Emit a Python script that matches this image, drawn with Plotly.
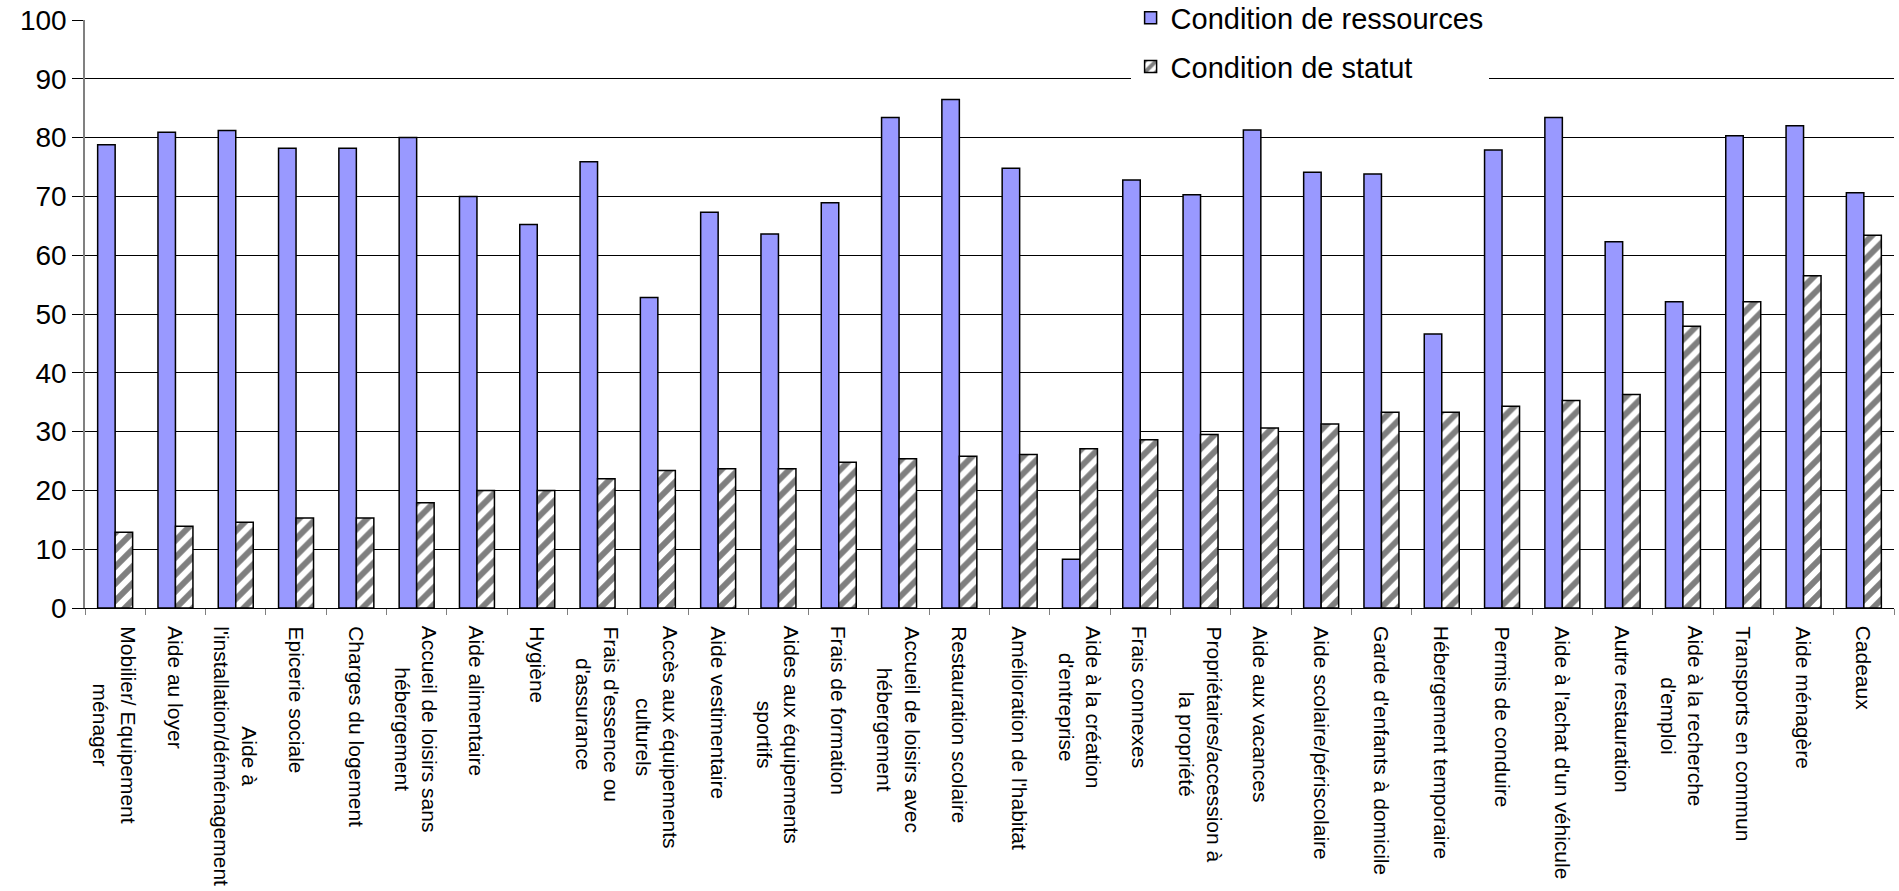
import plotly.graph_objects as go

# Aid categories (keys) and their wrapped axis labels
categories = [
    "Mobilier/ Equipement ménager", "Aide au loyer", "Aide à l'installation/déménagement",
    "Epicerie sociale", "Charges du logement", "Accueil de loisirs sans hébergement",
    "Aide alimentaire", "Hygiène", "Frais d'essence ou d'assurance",
    "Accès aux équipements culturels", "Aide vestimentaire", "Aides aux équipements sportifs",
    "Frais de formation", "Accueil de loisirs avec hébergement", "Restauration scolaire",
    "Amélioration de l'habitat", "Aide à la création d'entreprise", "Frais connexes",
    "Propriétaires/accession à la propriété", "Aide aux vacances", "Aide scolaire/périscolaire",
    "Garde d'enfants à domicile", "Hébergement temporaire", "Permis de conduire",
    "Aide à l'achat d'un véhicule", "Autre restauration", "Aide à la recherche d'emploi",
    "Transports en commun", "Aide ménagère", "Cadeaux",
]
tick_labels = [
    "Mobilier/ Equipement<br>ménager", "Aide au loyer", "Aide à<br>l'installation/déménagement",
    "Epicerie sociale", "Charges du logement", "Accueil de loisirs sans<br>hébergement",
    "Aide alimentaire", "Hygiène", "Frais d'essence ou<br>d'assurance",
    "Accès aux équipements<br>culturels", "Aide vestimentaire", "Aides aux équipements<br>sportifs",
    "Frais de formation", "Accueil de loisirs avec<br>hébergement", "Restauration scolaire",
    "Amélioration de l'habitat", "Aide à la création<br>d'entreprise", "Frais connexes",
    "Propriétaires/accession à<br>la propriété", "Aide aux vacances", "Aide scolaire/périscolaire",
    "Garde d'enfants à domicile", "Hébergement temporaire", "Permis de conduire",
    "Aide à l'achat d'un véhicule", "Autre restauration", "Aide à la recherche<br>d'emploi",
    "Transports en commun", "Aide ménagère", "Cadeaux",
]

# Share of aids (%) subject to each condition
ressources = [78.8, 80.9, 81.2, 78.2, 78.2, 80.0, 70.0, 65.2, 75.9, 52.8,
              67.3, 63.6, 68.9, 83.4, 86.5, 74.8, 8.3, 72.8, 70.3, 81.3,
              74.1, 73.8, 46.6, 77.9, 83.4, 62.3, 52.1, 80.3, 82.0, 70.6]
statut = [12.9, 13.9, 14.6, 15.3, 15.3, 17.9, 20.0, 20.0, 22.0, 23.4,
          23.7, 23.7, 24.8, 25.4, 25.8, 26.1, 27.1, 28.6, 29.5, 30.6,
          31.3, 33.3, 33.3, 34.3, 35.3, 36.3, 47.9, 52.1, 56.5, 63.4]

y_ticks = [0, 10, 20, 30, 40, 50, 60, 70, 80, 90, 100]

FONT = "Arial, Liberation Sans, sans-serif"

fig = go.Figure()
fig.add_trace(go.Bar(
    x=categories, y=ressources, name="Condition de ressources",
    legendgroup="r",
    marker=dict(color="#9999FF", line=dict(color="black", width=1.5)),
))
fig.add_trace(go.Bar(
    x=categories, y=statut, name="Condition de statut",
    legendgroup="s",
    marker=dict(
        color="white",
        line=dict(color="black", width=1.5),
        pattern=dict(shape="/", fgcolor="black", bgcolor="white", size=12, solidity=0.5),
    ),
))

# Rotated, centred multi-line category labels under the axis
for cat, lab in zip(categories, tick_labels):
    fig.add_annotation(
        x=cat, y=0, xref="x", yref="y", text=lab, showarrow=False,
        textangle=90, xanchor="center", yanchor="top", yshift=-16,
        align="center", font=dict(family=FONT, size=21, color="black"),
    )

fig.update_layout(
    width=1899, height=891,
    margin=dict(l=85, r=5, t=20, b=283, autoexpand=False),
    paper_bgcolor="white", plot_bgcolor="white",
    font=dict(family=FONT, color="black"),
    barmode="group", bargap=0.42, bargroupgap=0,
    showlegend=True,
    legend=dict(
        x=0.578, xanchor="left", y=1.047, yanchor="top",
        bgcolor="white", borderwidth=0, tracegroupgap=8,
        font=dict(family=FONT, size=29, color="black"),
        traceorder="grouped",
    ),
)
fig.update_xaxes(
    showticklabels=False, tickson="boundaries", ticks="outside", ticklen=6,
    tickcolor="#808080", showline=True, linecolor="black", linewidth=1,
    showgrid=False, zeroline=False,
)
fig.update_yaxes(
    range=[0, 100], tickvals=y_ticks, ticks="outside", ticklen=11, tickcolor="black",
    showgrid=True, gridcolor="black", gridwidth=1,
    showline=True, linecolor="#808080", linewidth=1.5, zeroline=False,
    tickfont=dict(family=FONT, size=28, color="black"),
)

fig.write_html("out.html")
